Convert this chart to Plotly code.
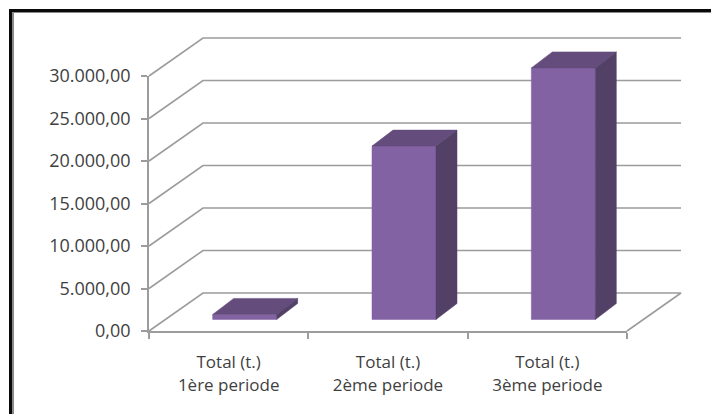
import plotly.graph_objects as go

categories = ["Total (t.)<br>1ère periode", "Total (t.)<br>2ème periode", "Total (t.)<br>3ème periode"]
values = [600, 20400, 29600]
y_ticks = [0, 5000, 10000, 15000, 20000, 25000, 30000]
y_labels = ["0,00", "5.000,00", "10.000,00", "15.000,00", "20.000,00", "25.000,00", "30.000,00"]

W, H = 711, 414
L, R, T, B = 149, 627, 76, 331
OL, OR, OT, OB = 146, 690, 30, 334
px_x = (R - L) / 3
px_y = (B - T) / 30000
wall_dx = 54 / px_x
wall_dy = 38 / px_y
bar_w = 64 / px_x
bar_dx0 = 16 / px_x
bar_dy0 = 11.5 / px_y
bar_ddx = 21 / px_x
bar_ddy = 16 / px_y

GRID = "#9c9c9c"
FRONT = "#8262a3"
TOP = "#644c7d"
SIDE = "#524066"
TEXT = "#3f3f3f"

fig = go.Figure()
x0, x1 = -0.5, 2.5


def line(xs, ys):
    fig.add_trace(go.Scatter(x=xs, y=ys, mode="lines", xaxis="x2", yaxis="y2", hoverinfo="skip",
                             line=dict(color=GRID, width=1.6), showlegend=False))


def face(xs, ys, color):
    fig.add_trace(go.Scatter(x=xs, y=ys, mode="lines", fill="toself", fillcolor=color, xaxis="x2", yaxis="y2",
                             hoverinfo="skip", line=dict(color=color, width=0.5), showlegend=False))


centers = list(range(len(values)))
# invisible trace that keeps the visible axes alive
fig.add_trace(go.Scatter(x=centers, y=values, mode="none", hoverinfo="skip", showlegend=False))

for t in y_ticks[1:]:
    line([x0, x0 + wall_dx, x1 + wall_dx], [t, t + wall_dy, t + wall_dy])
line([x0, x0 + wall_dx, x1 + wall_dx, x1], [0, wall_dy, wall_dy, 0])

for c, v in zip(centers, values):
    cx = c + bar_dx0
    a, b = cx - bar_w / 2, cx + bar_w / 2
    top = bar_dy0 + v
    face([a, b, b, a, a], [bar_dy0, bar_dy0, top, top, bar_dy0], FRONT)
    face([a, a + bar_ddx, b + bar_ddx, b, a], [top, top + bar_ddy, top + bar_ddy, top, top], TOP)
    face([b, b + bar_ddx, b + bar_ddx, b, b],
         [bar_dy0, bar_dy0 + bar_ddy, top + bar_ddy, top, bar_dy0], SIDE)

fig.update_layout(
    width=W, height=H, margin=dict(l=0, r=0, t=0, b=0, pad=0),
    paper_bgcolor="white", plot_bgcolor="rgba(0,0,0,0)", showlegend=False,
    font=dict(family="Open Sans", color=TEXT, size=17),
    xaxis=dict(domain=[L / W, R / W], range=[x0, x1], tickvals=centers, ticktext=categories, automargin=False,
               tickfont=dict(size=17, color=TEXT), ticks="", ticklen=0, showgrid=False, zeroline=False,
               showline=True, linecolor=GRID, linewidth=2, ticklabelstandoff=15,
               minor=dict(tickvals=[-0.5, 0.5, 1.5, 2.5], ticks="outside", ticklen=6, tickcolor=GRID,
                          tickwidth=1.5, showgrid=False)),
    yaxis=dict(domain=[1 - B / H, 1 - T / H], range=[0, 30000], tickvals=y_ticks, ticktext=y_labels, automargin=False,
               tickfont=dict(size=18, color=TEXT), ticks="outside", ticklen=6, tickcolor=GRID, tickwidth=1.5,
               showgrid=False, zeroline=False, showline=True, linecolor=GRID, linewidth=1.6, ticklabelstandoff=7),
    xaxis2=dict(domain=[OL / W, OR / W], range=[x0 - (L - OL) / px_x, x1 + (OR - R) / px_x], visible=False,
                anchor="y2", automargin=False),
    yaxis2=dict(domain=[1 - OB / H, 1 - OT / H], range=[-(OB - B) / px_y, (B - OT) / px_y], visible=False,
                anchor="x2", automargin=False),
    shapes=[
        dict(type="rect", xref="paper", yref="paper", x0=9 / W, x1=12 / W, y0=0, y1=1 - 9 / H, fillcolor="#0a0a0a", line_width=0),
        dict(type="rect", xref="paper", yref="paper", x0=12 / W, x1=14 / W, y0=0, y1=1 - 12 / H, fillcolor="#8a8a8a", line_width=0),
        dict(type="rect", xref="paper", yref="paper", x0=9 / W, x1=1, y0=1 - 12 / H, y1=1 - 9 / H, fillcolor="#0a0a0a", line_width=0),
        dict(type="rect", xref="paper", yref="paper", x0=12 / W, x1=1, y0=1 - 13 / H, y1=1 - 12 / H, fillcolor="#8a8a8a", line_width=0),
    ],
)

fig.write_html("out.html", config=dict(displayModeBar=False),
               post_script="document.body.style.margin='0';document.documentElement.style.overflow='hidden';")
